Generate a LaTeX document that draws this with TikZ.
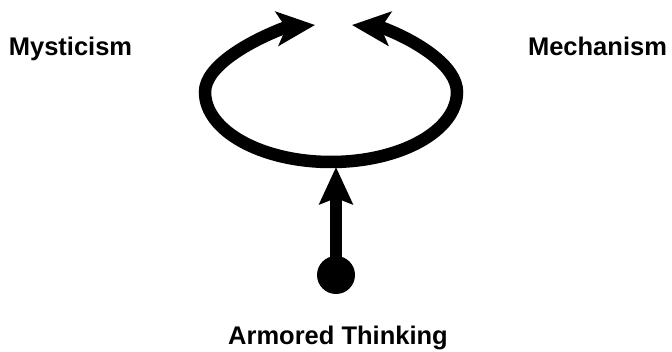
\documentclass[tikz,border=0pt]{standalone}
\usepackage{fontspec}
\setmainfont{Liberation Sans}
\usepackage{tikz}
\usetikzlibrary{arrows.meta}

\begin{document}
\begin{tikzpicture}[
  x=1pt, y=1pt,
  label/.style={font=\bfseries\fontsize{25.5}{30}\selectfont, anchor=base, inner sep=0pt},
  loop/.style={line width=12.5pt, line cap=round},
  head/.style={line width=12.5pt, -{Stealth[length=38pt,width=34pt,inset=9pt]}},
  rise/.style={line width=12pt, -{Stealth[length=37pt,width=33pt,inset=6pt]}},
  core/.style={circle, fill=black, minimum size=38pt, inner sep=0pt},
]
\useasboundingbox (0,0) rectangle (672,351);

% ---- labels ----
\node[label] (myst) at (70.5,295) {Mysticism};
\node[label] (mech) at (597.5,295) {Mechanism};
\node[label] (armor) at (338,7) {Armored Thinking};

% ---- loop: flatter top, elliptic bottom ----
\coordinate (endL) at (284,323);
\coordinate (endR) at (383,323);
\coordinate (tipL) at (315,326);
\coordinate (tipR) at (352,326);
\draw[loop] (endL) .. controls (250,310) and (205,285) .. (205,259)
  arc[start angle=180, end angle=360, x radius=126, y radius=70]
  .. controls (457,285) and (417,310) .. (endR);
\draw[head] (endL) -- (tipL);
\draw[head] (endR) -- (tipR);
\coordinate (loopbot) at (336,184);

% ---- rising arrow ----
\node[core] (dot) at (336,76) {};
\draw[rise] (dot.center) -- (loopbot);

\end{tikzpicture}
\end{document}
